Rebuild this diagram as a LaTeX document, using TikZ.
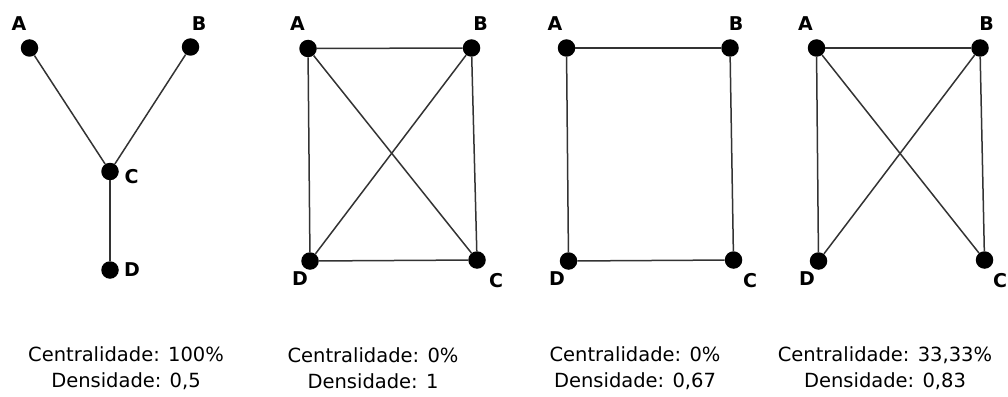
\documentclass[tikz,border=0pt]{standalone}
\usepackage{fontspec}
\setmainfont{DejaVu Sans}
\usepackage{tikz}

\tikzset{
	vert/.style={circle, fill=black, inner sep=0pt, minimum size=17.5pt},
	edge/.style={color=black!80, line width=1.5pt},
	lbl/.style={font=\fontsize{19}{22}\selectfont\bfseries, inner sep=0pt},
	caption/.style={font=\fontsize{19.5}{26}\selectfont, align=center, inner sep=0pt}
}

\begin{document}
\begin{tikzpicture}[x=1pt, y=-1pt]
	\useasboundingbox (0,0) rectangle (1008,396);

	% Graph 1: star
	\node[vert] (a1) at (29.5,48) {};
	\node[vert] (b1) at (190.5,47) {};
	\node[vert] (c1) at (110,171.5) {};
	\node[vert] (d1) at (110,270) {};
	\draw[edge] (a1) -- (c1);
	\draw[edge] (b1) -- (c1);
	\draw[edge] (c1) -- (d1);
	\node[lbl] (la1) at (19,24) {A};
	\node[lbl] (lb1) at (199,24) {B};
	\node[lbl] (lc1) at (131.5,177) {C};
	\node[lbl] (ld1) at (132,270) {D};

	% Graph 2: complete
	\node[vert] (a2) at (308,48.5) {};
	\node[vert] (b2) at (471.5,48) {};
	\node[vert] (c2) at (477,260) {};
	\node[vert] (d2) at (310,261) {};
	\draw[edge] (a2) -- (b2);
	\draw[edge] (a2) -- (d2);
	\draw[edge] (a2) -- (c2);
	\draw[edge] (b2) -- (d2);
	\draw[edge] (b2) -- (c2);
	\draw[edge] (d2) -- (c2);
	\node[lbl] (la2) at (297.5,24) {A};
	\node[lbl] (lb2) at (480.5,24) {B};
	\node[lbl] (lc2) at (496,281) {C};
	\node[lbl] (ld2) at (300,279) {D};

	% Graph 3: cycle
	\node[vert] (a3) at (566.5,48) {};
	\node[vert] (b3) at (730,48) {};
	\node[vert] (c3) at (733.5,260) {};
	\node[vert] (d3) at (568.5,261) {};
	\draw[edge] (a3) -- (b3);
	\draw[edge] (b3) -- (c3);
	\draw[edge] (c3) -- (d3);
	\draw[edge] (d3) -- (a3);
	\node[lbl] (la3) at (555,24) {A};
	\node[lbl] (lb3) at (736,24) {B};
	\node[lbl] (lc3) at (750,281) {C};
	\node[lbl] (ld3) at (557,279) {D};

	% Graph 4: five edges
	\node[vert] (a4) at (816.5,48) {};
	\node[vert] (b4) at (980,48) {};
	\node[vert] (c4) at (984.5,260) {};
	\node[vert] (d4) at (818.5,261) {};
	\draw[edge] (a4) -- (b4);
	\draw[edge] (a4) -- (d4);
	\draw[edge] (a4) -- (c4);
	\draw[edge] (b4) -- (d4);
	\draw[edge] (b4) -- (c4);
	\node[lbl] (la4) at (805.5,24) {A};
	\node[lbl] (lb4) at (986.5,24) {B};
	\node[lbl] (lc4) at (1000,281) {C};
	\node[lbl] (ld4) at (807,279) {D};

	% Captions
	\node[caption] (cap1) at (126,368) {Centralidade: 100\%\\Densidade: 0,5};
	\node[caption] (cap2) at (373,368) {Centralidade: 0\%\\Densidade: 1};
	\node[caption] (cap3) at (635,368) {Centralidade: 0\%\\Densidade: 0,67};
	\node[caption] (cap4) at (885,368) {Centralidade: 33,33\%\\Densidade: 0,83};

\end{tikzpicture}
\end{document}
